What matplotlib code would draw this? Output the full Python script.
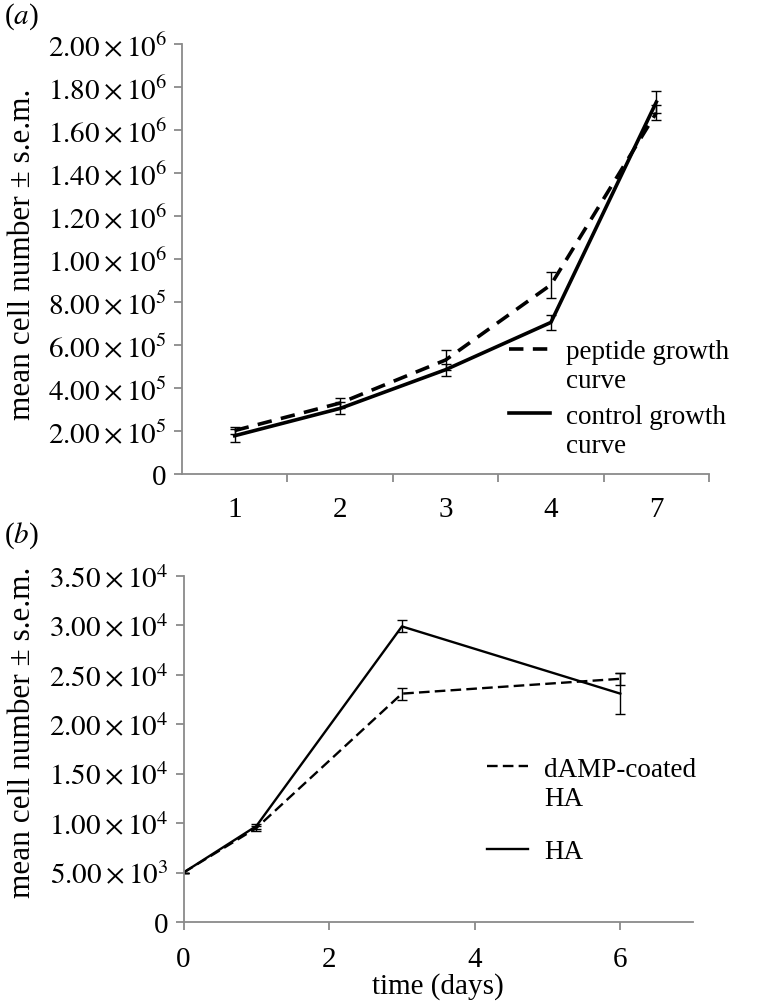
import matplotlib
matplotlib.use("Agg")
import matplotlib.pyplot as plt
from matplotlib.offsetbox import HPacker
import numpy as np

plt.rcParams['font.family'] = ['Liberation Serif', 'DejaVu Serif']
plt.rcParams['mathtext.fontset'] = 'stix'

# ---- panel (a) data ----
days_a = ['1', '2', '3', '4', '7']
peptide_mean = [2.02e5, 3.30e5, 5.30e5, 8.80e5, 1.68e6]
peptide_sem = [0.15e5, 0.25e5, 0.45e5, 0.60e5, 0.35e5]
control_mean = [1.78e5, 3.05e5, 4.85e5, 7.05e5, 1.73e6]
control_sem = [0.30e5, 0.28e5, 0.28e5, 0.35e5, 0.50e5]
yticks_a = [0, 2e5, 4e5, 6e5, 8e5, 1e6, 1.2e6, 1.4e6, 1.6e6, 1.8e6, 2e6]

# ---- panel (b) data ----
days_b = [0, 1, 3, 6]
damp_mean = [5.0e3, 9.5e3, 2.31e4, 2.46e4]
damp_sem = [0, 0.25e3, 0.6e3, 0.6e3]
ha_mean = [5.0e3, 9.7e3, 2.99e4, 2.31e4]
ha_sem = [0, 0.25e3, 0.6e3, 2.1e3]
yticks_b = [0, 5e3, 1e4, 1.5e4, 2e4, 2.5e4, 3e4, 3.5e4]
xticks_b = [0, 2, 4, 6]

FS = 21
LFS = 19.5
YLFS = 22.5
GRAY = '#8a8a8a'


def sci_label(v):
    if v == 0:
        return '0'
    e = int(np.floor(np.log10(v)))
    m = v / 10 ** e
    return r'$%.2f\times10^{%d}$' % (m, e)


def style_axes(ax):
    for s in ['top', 'right']:
        ax.spines[s].set_visible(False)
    for s in ['left', 'bottom']:
        ax.spines[s].set_color(GRAY)
        ax.spines[s].set_linewidth(1.3)
    ax.tick_params(which='both', direction='out', color=GRAY, width=1.3,
                   labelsize=FS, length=6, pad=5)


def fix_legend(leg):
    for hp in leg.findobj(HPacker):
        hp.align = 'top'


fig = plt.figure(figsize=(7.82, 10.04), dpi=100)

# ---------------- (a) ----------------
ax1 = fig.add_axes([0.2327, 0.5269, 0.674, 0.4283])
xa = np.arange(len(days_a))
ax1.errorbar(xa, peptide_mean, yerr=peptide_sem, color='black', lw=2.6,
             ls=(0, (4.0, 2.6)), elinewidth=1.0, capsize=3.5, capthick=1.0,
             label='peptide growth\ncurve')
ax1.errorbar(xa, control_mean, yerr=control_sem, color='black', lw=2.6,
             ls='-', elinewidth=1.0, capsize=3.5, capthick=1.0,
             label='control growth\ncurve')
ax1.set_xlim(-0.5, len(days_a) - 0.5)
ax1.set_ylim(0, 2e6)
ax1.set_yticks(yticks_a)
ax1.set_yticklabels([sci_label(v) for v in yticks_a])
ax1.set_xticks(np.arange(len(days_a)) + 0.5)
ax1.set_xticklabels([])
ax1.set_xticks(xa, minor=True)
ax1.set_xticklabels(days_a, minor=True)
style_axes(ax1)
ax1.tick_params(axis='x', which='minor', length=0, pad=16)
ax1.set_ylabel('mean cell number ± s.e.m.', fontsize=YLFS, va='center')
ax1.yaxis.set_label_coords(-0.303, 0.512)
h, l = ax1.get_legend_handles_labels()
h = [hh[0] for hh in h]
leg1 = ax1.legend(h, l, loc='upper left', bbox_to_anchor=(0.651, 0.661),
                  bbox_transform=fig.transFigure, frameon=False, fontsize=LFS,
                  handlelength=1.5, handletextpad=0.6, labelspacing=0.4,
                  borderpad=0, borderaxespad=0)
fix_legend(leg1)
fig.text(0.005, 0.999, r'($\mathit{a}$)', fontsize=FS, va='top', ha='left')

# ---------------- (b) ----------------
ax2 = fig.add_axes([0.2347, 0.0807, 0.6516, 0.3446])
ax2.errorbar(days_b, damp_mean, yerr=damp_sem, color='black', lw=1.7,
             ls=(0, (4.5, 2.2)), elinewidth=1.0, capsize=3.5, capthick=1.0,
             label='dAMP-coated\nHA')
ax2.errorbar(days_b, ha_mean, yerr=ha_sem, color='black', lw=1.7,
             ls='-', elinewidth=1.0, capsize=3.5, capthick=1.0, label='HA')
ax2.set_xlim(0, 7)
ax2.set_ylim(0, 3.5e4)
ax2.set_xticks(xticks_b)
ax2.set_xticklabels([str(v) for v in xticks_b])
ax2.set_yticks(yticks_b)
ax2.set_yticklabels([sci_label(v) for v in yticks_b])
style_axes(ax2)
ax2.tick_params(axis='x', pad=11)
ax2.set_ylabel('mean cell number ± s.e.m.', fontsize=YLFS, va='center')
ax2.yaxis.set_label_coords(-0.317, 0.55)
ax2.set_xlabel('time (days)', fontsize=FS, labelpad=0)
h, l = ax2.get_legend_handles_labels()
h = [hh[0] for hh in h]
leg2 = ax2.legend(h, l, loc='upper left', bbox_to_anchor=(0.623, 0.245),
                  bbox_transform=fig.transFigure, frameon=False, fontsize=LFS,
                  handlelength=1.5, handletextpad=0.6, labelspacing=1.05,
                  borderpad=0, borderaxespad=0)
fix_legend(leg2)
fig.text(0.005, 0.482, r'($\mathit{b}$)', fontsize=FS, va='top', ha='left')

fig.savefig('out.png', dpi=100)
